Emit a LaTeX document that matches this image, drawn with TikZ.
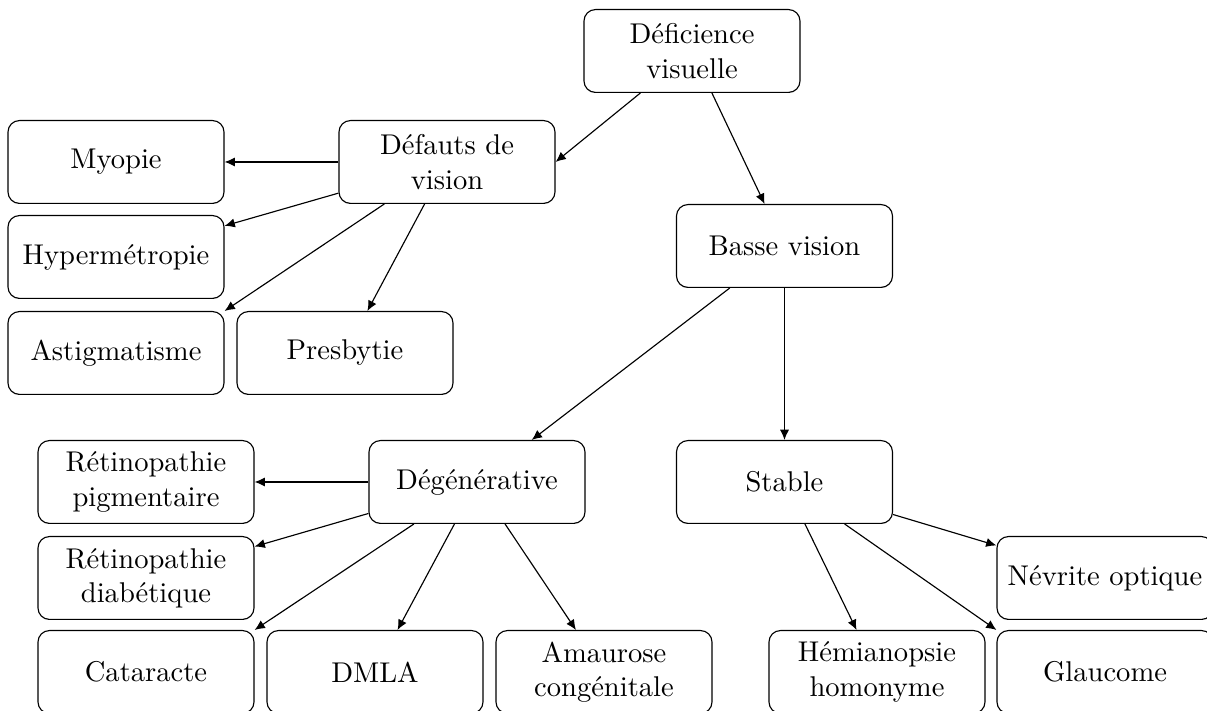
\documentclass[tikz,border=0pt]{standalone}
\usepackage{fontspec}
\usetikzlibrary{arrows.meta}
\begin{document}
\begin{tikzpicture}[x=0.35pt,y=-0.35pt,
  box/.style={draw,rounded corners=4pt,minimum width=75.6pt,minimum height=29pt,align=center,inner sep=2pt},
  arr/.style={-{Latex[length=3.6pt,width=3.2pt]}}]
\clip (0,0) rectangle (1207,711);
\node[box] (def) at (692,51) {Déficience\\visuelle};
\node[box] (dfv) at (447,162) {Défauts de\\vision};
\node[box] (myo) at (116,162) {Myopie};
\node[box] (hyp) at (116,257) {Hypermétropie};
\node[box] (ast) at (116,353) {Astigmatisme};
\node[box] (pre) at (345,353) {Presbytie};
\node[box] (bas) at (784.5,246) {Basse vision};
\node[box] (deg) at (477,482) {Dégénérative};
\node[box] (sta) at (784.5,482) {Stable};
\node[box] (rpg) at (146,482) {Rétinopathie\\pigmentaire};
\node[box] (rdb) at (146,578) {Rétinopathie\\diabétique};
\node[box] (cat) at (146,672) {Cataracte};
\node[box] (dml) at (375,672) {DMLA};
\node[box] (ama) at (604,672) {Amaurose\\congénitale};
\node[box] (hem) at (877,672) {Hémianopsie\\homonyme};
\node[box] (gla) at (1105,672) {Glaucome};
\node[box] (nev) at (1105,578) {Névrite optique};
\draw[arr] (def) -- (dfv.east);
\draw[arr] (def) -- (bas);
\draw[arr] (dfv) -- (myo);
\draw[arr] (dfv) -- (hyp);
\draw[arr] (dfv) -- (ast.north east);
\draw[arr] (dfv) -- (pre);
\draw[arr] (bas) -- (deg);
\draw[arr] (bas) -- (sta);
\draw[arr] (deg) -- (rpg);
\draw[arr] (deg) -- (rdb);
\draw[arr] (deg) -- (cat.north east);
\draw[arr] (deg) -- (dml);
\draw[arr] (deg) -- (ama);
\draw[arr] (sta) -- (hem);
\draw[arr] (sta) -- (gla.north west);
\draw[arr] (sta) -- (nev);
\end{tikzpicture}
\end{document}
